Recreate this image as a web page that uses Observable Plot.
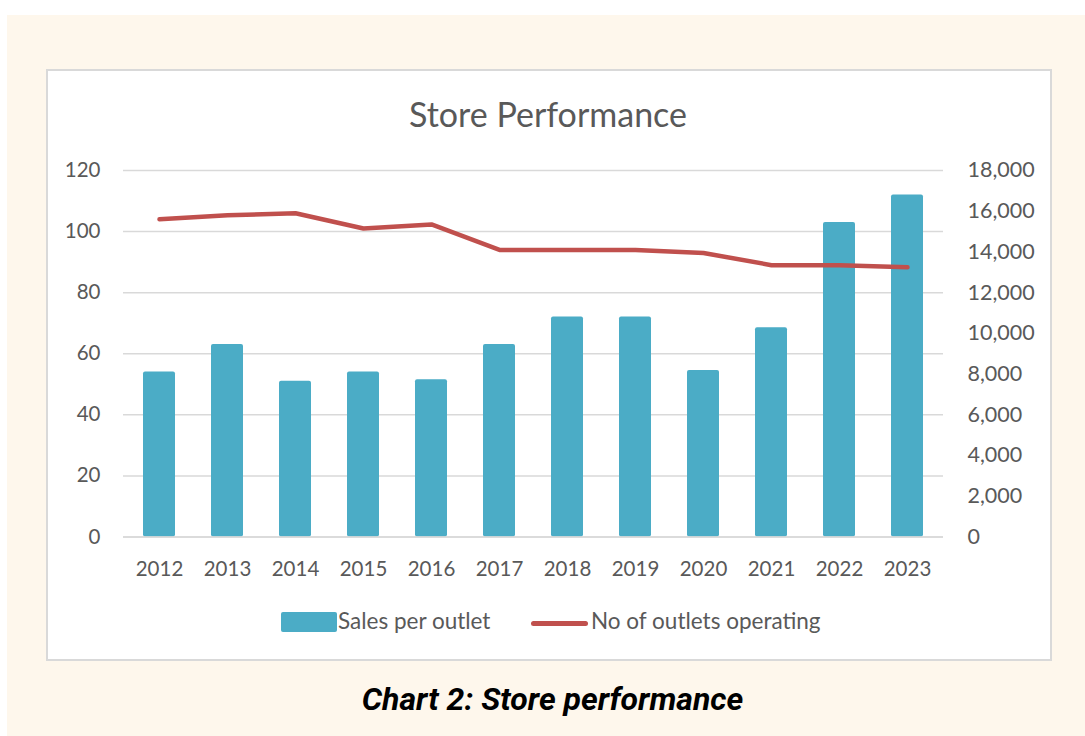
<!DOCTYPE html>
<html>
<head>
<meta charset="utf-8">
<script src="https://cdn.jsdelivr.net/npm/d3@7"></script>
<script src="https://cdn.jsdelivr.net/npm/@observablehq/plot@0.6"></script>
<style>
  html, body { margin: 0; padding: 0; background: #ffffff; }
  body { width: 1085px; height: 736px; position: relative; overflow: hidden; font-family: Lato, "Open Sans", sans-serif; }
  #cream { position: absolute; left: 7px; top: 15px; right: 0; bottom: 0; background: #fef7ec; }
  #box { position: absolute; left: 46px; top: 69px; width: 1002px; height: 588px; background: #ffffff; border: 2px solid #d9d9d9; box-sizing: content-box; }
  #title { position: absolute; left: 46px; width: 1004px; top: 92px; text-align: center; font-size: 34px; color: #595959; line-height: 44px; }
  #chart { position: absolute; left: 0; top: 140px; }
  .leg { position: absolute; font-size: 22.5px; color: #595959; line-height: 24px; }
  #caption { position: absolute; left: 20px; right: 0; top: 679px; text-align: center; font-family: Roboto, sans-serif; font-weight: bold; font-style: italic; font-size: 32px; color: #000; line-height: 40px; }
</style>
</head>
<body>
<div id="cream"></div>
<div id="box"></div>
<div id="title">Store Performance</div>
<div id="chart"></div>
<div class="leg" style="left:281px; top:612px; width:56px; height:20px; background:#4bacc6; border-radius:2px;"></div>
<div class="leg" style="left:338px; top:609px;">Sales per outlet</div>
<div class="leg" style="left:531px; top:621px; width:57px; height:5px; background:#c0504d; border-radius:3px;"></div>
<div class="leg" style="left:591px; top:609px;">No of outlets operating</div>
<div id="caption">Chart 2: Store performance</div>
<script>
const years = ["2012","2013","2014","2015","2016","2017","2018","2019","2020","2021","2022","2023"];
const salesPerOutlet = [54, 63, 51, 54, 51.5, 63, 72, 72, 54.5, 68.5, 103, 112];
const outletsOperating = [15600, 15800, 15900, 15150, 15350, 14100, 14100, 14100, 13950, 13350, 13350, 13250];
const leftTicks = [0, 20, 40, 60, 80, 100, 120];
const rightTicks = [0, 2000, 4000, 6000, 8000, 10000, 12000, 14000, 16000, 18000];

const leftMax = 120, rightMax = 18000;
const k = leftMax / rightMax;

const bars = years.map((y, i) => ({year: y, value: salesPerOutlet[i]}));
const line = years.map((y, i) => ({year: y, value: outletsOperating[i] * k}));

const textColor = "#595959";
const plot = Plot.plot({
  width: 1085,
  height: 460,
  marginLeft: 123,
  marginRight: 142,
  marginTop: 30,
  marginBottom: 63.5,
  style: {background: "transparent", fontFamily: "Lato, 'Open Sans', sans-serif", fontSize: "20px", color: textColor, overflow: "visible"},
  x: {domain: years, paddingInner: 0.527, paddingOuter: 0.26, label: null},
  y: {domain: [0, leftMax], label: null},
  marks: [
    Plot.gridY(leftTicks, {stroke: "#d9d9d9", strokeOpacity: 1, strokeWidth: 1.5}),
    Plot.barY(bars, {x: "year", y: "value", fill: "#4bacc6", rx: 2}),
    Plot.ruleY([0], {stroke: "#d9d9d9", strokeWidth: 1.5}),
    Plot.line(line, {x: "year", y: "value", stroke: "#c0504d", strokeWidth: 4.5, strokeLinecap: "round", strokeLinejoin: "round"}),
    Plot.axisY(leftTicks, {anchor: "left", tickSize: 0, tickPadding: 23, label: null, fill: textColor, fontSize: 20.5}),
    Plot.axisY(rightTicks.map(v => v * k), {anchor: "right", tickSize: 0, tickPadding: 24, label: null, fill: textColor, fontSize: 21.5, tickFormat: d => d3.format(",")(Math.round(d / k))}),
    Plot.axisX({tickSize: 0, tickPadding: 24, label: null, fill: textColor, fontSize: 20.5})
  ]
});
document.getElementById("chart").appendChild(plot);
</script>
</body>
</html>
